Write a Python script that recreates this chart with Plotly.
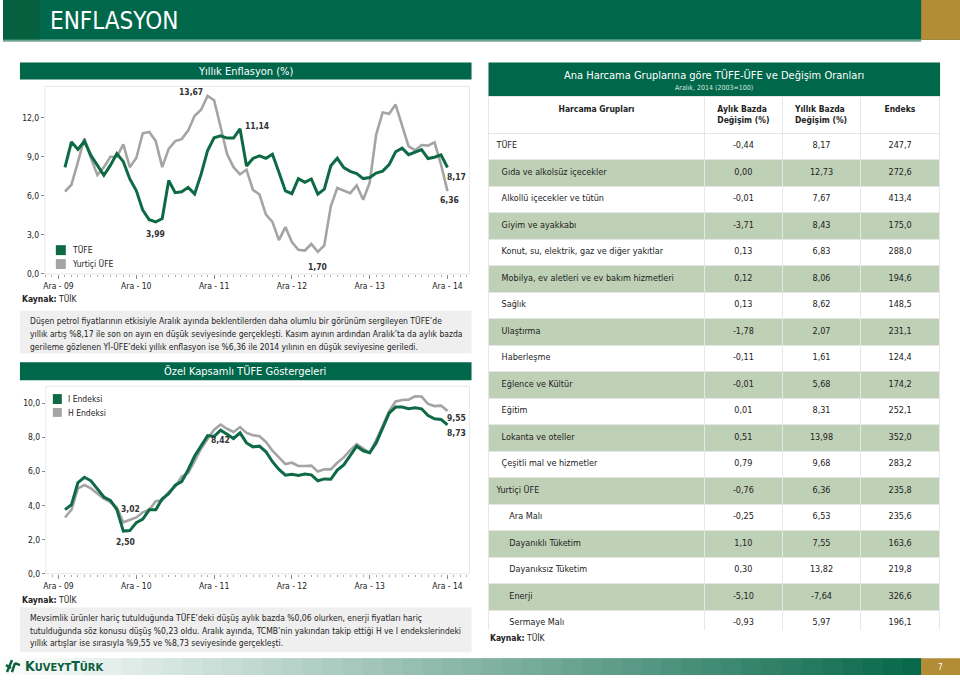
import plotly.graph_objects as go

W, H = 960, 680


def px(x):
    return x / W


def py(y):
    return 1 - y / H


# ---------------- data ----------------
month_idx = list(range(60))  # Oca-10 ... Ara-14
year_ticks = [-1, 11, 23, 35, 47, 59]
year_labels = ["Ara - 09", "Ara - 10", "Ara - 11", "Ara - 12", "Ara - 13", "Ara - 14"]

tufe = [8.19, 10.13, 9.56, 10.19, 9.10, 8.37, 7.58, 8.33, 9.24, 8.62, 7.29, 6.40,
        4.90, 4.16, 3.99, 4.26, 7.17, 6.24, 6.31, 6.65, 6.15, 7.66, 9.48, 10.45,
        10.61, 10.43, 10.43, 11.14, 8.28, 8.87, 9.07, 8.88, 9.19, 7.80, 6.37, 6.16,
        7.31, 7.03, 7.29, 6.13, 6.51, 8.30, 8.88, 8.17, 7.88, 7.71, 7.32, 7.40,
        7.75, 7.89, 8.39, 9.38, 9.66, 9.16, 9.32, 9.54, 8.86, 8.96, 9.15, 8.17]

yi_ufe = [6.33, 6.85, 8.6, 10.4, 8.9, 7.6, 8.2, 9.0, 9.0, 9.95, 8.2, 8.9,
          10.8, 10.9, 10.2, 8.2, 9.6, 10.2, 10.35, 11.0, 12.15, 12.6, 13.67, 13.33,
          11.3, 9.2, 8.2, 7.65, 8.0, 6.45, 6.1, 4.55, 4.0, 2.6, 3.6, 2.45,
          1.85, 1.8, 2.3, 1.70, 2.2, 5.2, 6.6, 6.4, 6.2, 6.8, 5.7, 7.0,
          10.7, 12.4, 12.3, 13.0, 11.3, 9.8, 9.5, 9.9, 9.85, 10.1, 8.4, 6.36]

i_endeksi = [3.76, 4.05, 5.35, 5.66, 5.45, 5.0, 4.5, 4.3, 3.76, 2.50, 2.53, 3.0,
             3.2, 3.75, 3.75, 4.4, 4.7, 5.2, 5.4, 6.1, 6.9, 7.5, 8.1, 8.05,
             8.42, 8.18, 7.93, 8.26, 7.67, 7.44, 7.48, 7.15, 6.57, 6.12, 5.78, 5.83,
             5.76, 5.85, 5.8, 5.45, 5.56, 5.54, 6.08, 6.38, 6.9, 7.48, 7.21, 7.09,
             7.67, 8.6, 9.42, 9.77, 9.77, 9.67, 9.73, 9.67, 9.28, 9.09, 9.05, 8.73]

h_endeksi = [3.3, 3.76, 5.0, 5.2, 5.0, 4.7, 4.4, 4.2, 3.9, 3.02, 3.15, 3.3,
             3.6, 3.75, 4.25, 4.3, 4.8, 5.1, 5.7, 5.9, 6.6, 7.35, 7.9, 8.45,
             8.75, 8.5, 8.31, 8.6, 8.26, 8.12, 8.06, 7.73, 7.21, 6.82, 6.43, 6.51,
             6.32, 6.32, 6.34, 5.99, 6.12, 6.12, 6.51, 6.82, 7.25, 7.6, 7.34, 7.09,
             7.83, 8.7, 9.53, 10.1, 10.19, 10.21, 10.4, 10.39, 9.96, 9.83, 9.86, 9.55]

groups = ["TÜFE", "Gıda ve alkolsüz içecekler", "Alkollü içecekler ve tütün",
          "Giyim ve ayakkabı", "Konut, su, elektrik, gaz ve diğer yakıtlar",
          "Mobilya, ev aletleri ve ev bakım hizmetleri", "Sağlık", "Ulaştırma",
          "Haberleşme", "Eğlence ve Kültür", "Eğitim", "Lokanta ve oteller",
          "Çeşitli mal ve hizmetler", "Yurtiçi ÜFE", "Ara Malı", "Dayanıklı Tüketim",
          "Dayanıksız Tüketim", "Enerji", "Sermaye Malı"]
group_level = [0, 1, 1, 1, 1, 1, 1, 1, 1, 1, 1, 1, 1, 0, 2, 2, 2, 2, 2]
aylik = [-0.44, 0.00, -0.01, -3.71, 0.13, 0.12, 0.13, -1.78, -0.11, -0.01, 0.01, 0.51,
         0.79, -0.76, -0.25, 1.10, 0.30, -5.10, -0.93]
yillik = [8.17, 12.73, 7.67, 8.43, 6.83, 8.06, 8.62, 2.07, 1.61, 5.68, 8.31, 13.98,
          9.68, 6.36, 6.53, 7.55, 13.82, -7.64, 5.97]
endeks = [247.7, 272.6, 413.4, 175.0, 288.0, 194.6, 148.5, 231.1, 124.4, 174.2, 252.1,
          352.0, 283.2, 235.8, 235.6, 163.6, 219.8, 326.6, 196.1]

# ---------------- styles ----------------
FONT = "DejaVu Sans Condensed, DejaVu Sans, sans-serif"
GREEN = "#00674A"
LINE_GREEN = "#0D6A45"
LINE_GRAY = "#A4A4A4"
ROW_FILL = "#BED0B6"
TXT = "#222222"


def tr(v, d=2):
    return f"{v:.{d}f}".replace(".", ",")


fig = go.Figure()

# chart 1
fig.add_trace(go.Scatter(x=month_idx, y=yi_ufe, mode="lines", line=dict(color=LINE_GRAY, width=2.6),
                         xaxis="x", yaxis="y", hoverinfo="skip", showlegend=False))
fig.add_trace(go.Scatter(x=month_idx, y=tufe, mode="lines", line=dict(color=LINE_GREEN, width=3),
                         xaxis="x", yaxis="y", hoverinfo="skip", showlegend=False))
# chart 2
fig.add_trace(go.Scatter(x=month_idx, y=h_endeksi, mode="lines", line=dict(color=LINE_GRAY, width=2.6),
                         xaxis="x2", yaxis="y2", hoverinfo="skip", showlegend=False))
fig.add_trace(go.Scatter(x=month_idx, y=i_endeksi, mode="lines", line=dict(color=LINE_GREEN, width=3),
                         xaxis="x2", yaxis="y2", hoverinfo="skip", showlegend=False))

# table
labels = [("\u00a0" * (0 if lv == 0 else (2 if lv == 1 else 5))) + g for g, lv in zip(groups, group_level)]
fills = ["white" if i % 2 == 0 else ROW_FILL for i in range(len(groups))]
fig.add_trace(go.Table(
    domain=dict(x=[px(487), px(940)], y=[py(634), py(97)]),
    columnwidth=[217, 78, 79, 79],
    header=dict(values=["<b>Harcama Grupları</b>", "<b>Aylık Bazda<br>Değişim (%)</b>",
                        "<b>Yıllık Bazda<br>Değişim (%)</b>", "<b>Endeks</b>"],
                height=32, fill_color="white", line=dict(color="#e6e6e6", width=1),
                align="center", font=dict(family=FONT, size=8.5, color=TXT)),
    cells=dict(values=[labels, [tr(v) for v in aylik], [tr(v) for v in yillik], [tr(v, 1) for v in endeks]],
               height=26.5, fill_color=[fills] * 4, line=dict(color="#e6e6e6", width=1),
               align=["left", "center", "center", "center"],
               font=dict(family=FONT, size=9, color=TXT)),
))

axis_font = dict(family=FONT, size=8.5, color="#222")
xcommon = dict(tickmode="array", tickvals=year_ticks, ticktext=year_labels, ticks="outside", ticklen=4,
               tickcolor="#888", showgrid=False, zeroline=False, showline=False,
               minor=dict(tickmode="linear", tick0=-1, dtick=1, ticks="outside", ticklen=2, tickcolor="#aaa"),
               tickfont=axis_font, fixedrange=True)
ycommon = dict(tickformat=".1f", ticks="outside", ticklen=3, tickcolor="#888", showgrid=False,
               zeroline=False, showline=False, tickfont=axis_font, fixedrange=True)

fig.update_layout(
    width=W, height=H, margin=dict(l=0, r=0, t=0, b=0),
    paper_bgcolor="white", plot_bgcolor="white", separators=",.",
    font=dict(family=FONT, size=9, color=TXT),
    xaxis=dict(domain=[px(42), px(468)], range=[-3.1, 62.4], anchor="y", **xcommon),
    yaxis=dict(domain=[py(276), py(87)], range=[0, 14.4], tickvals=[0, 3, 6, 9, 12], anchor="x", **ycommon),
    xaxis2=dict(domain=[px(43), px(468)], range=[-2.95, 62.4], anchor="y2", **xcommon),
    yaxis2=dict(domain=[py(578), py(389)], range=[0, 11.0], tickvals=[0, 2, 4, 6, 8, 10], anchor="x2", **ycommon),
)

shapes = []
ann = []


def rect(x0, y0, x1, y1, fill, line=None, layer="below"):
    shapes.append(dict(type="rect", xref="paper", yref="paper", x0=px(x0), x1=px(x1), y0=py(y1), y1=py(y0),
                       fillcolor=fill, line=dict(width=0 if line is None else 1, color=line or fill),
                       layer=layer))


def text(x, y, s, size=9, color=TXT, xanchor="left", yanchor="middle", family=FONT):
    ann.append(dict(x=px(x), y=py(y), xref="paper", yref="paper", text=s, showarrow=False,
                    xanchor=xanchor, yanchor=yanchor, font=dict(family=family, size=size, color=color)))


# header
rect(0, 0, 960, 40, GREEN)
rect(0, 0, 37, 40, "#05603F")
rect(921, 0, 960, 40, "#B38D35")
rect(0, 40, 921, 42, "#6FA78E")
text(45, 21, "ENFLASYON", size=24, color="white",
     family="Liberation Sans Narrow, DejaVu Sans Condensed, sans-serif")

# chart titles
rect(17, 63, 470, 80, GREEN)
text(243, 72, "Yıllık Enflasyon (%)", size=11, color="white", xanchor="center")
rect(17, 365, 470, 383, GREEN)
text(243, 374, "Özel Kapsamlı TÜFE Göstergeleri", size=11, color="white", xanchor="center")

# plot frames
rect(42, 87, 468, 276, "rgba(0,0,0,0)", line="#e8e8e8")
rect(43, 389, 468, 578, "rgba(0,0,0,0)", line="#e8e8e8")

# legends
rect(53, 247, 63, 257, LINE_GREEN, layer="above")
text(67, 252, "TÜFE", size=8.5)
rect(53, 261, 63, 271, LINE_GRAY, layer="above")
text(67, 266, "Yurtiçi ÜFE", size=8.5)
rect(50, 397, 59, 407, LINE_GREEN, layer="above")
text(63, 402, "I Endeksi", size=8.5)
rect(50, 411, 59, 420, LINE_GRAY, layer="above")
text(63, 416, "H Endeksi", size=8.5)


# data labels
def dlabel(xa, ya, i, series, dx, dy, xanchor="center"):
    ann.append(dict(x=month_idx[i], y=series[i], xref=xa, yref=ya, text="<b>" + tr(series[i]) + "</b>",
                    showarrow=False, xshift=dx, yshift=dy, xanchor=xanchor, yanchor="middle",
                    font=dict(family=FONT, size=8.5, color="#333")))


i_max_ufe = yi_ufe.index(max(yi_ufe))
i_max_tufe = tufe.index(max(tufe))
i_min_tufe = tufe.index(min(tufe))
i_min_ufe = yi_ufe.index(min(yi_ufe))
dlabel("x", "y", i_max_ufe, yi_ufe, -17, 4)
dlabel("x", "y", i_max_tufe, tufe, 3, 3, "left")
dlabel("x", "y", i_min_tufe, tufe, 0, -12)
dlabel("x", "y", i_min_ufe, yi_ufe, 0, -15)
dlabel("x", "y", 59, tufe, 9, -9)
dlabel("x", "y", 59, yi_ufe, 2, -9)
i_min_i = i_endeksi.index(min(i_endeksi[:20]))
dlabel("x2", "y2", i_min_i, h_endeksi, 7, 13)
dlabel("x2", "y2", i_min_i, i_endeksi, 2, -11)
dlabel("x2", "y2", 24, i_endeksi, 0, -10)
dlabel("x2", "y2", 59, h_endeksi, 9, -7)
dlabel("x2", "y2", 59, i_endeksi, 9, -8)

# sources
text(17, 301, "<b>Kaynak:</b> TÜİK", size=8.5)
text(17, 604, "<b>Kaynak:</b> TÜİK", size=8.5)
text(487, 643, "<b>Kaynak:</b> TÜİK", size=8.5)

# commentary boxes
rect(17, 313, 470, 356, "#EFEFEF")
para1 = ["Düşen petrol fiyatlarının etkisiyle Aralık ayında beklentilerden daha olumlu bir görünüm sergileyen TÜFE’de",
         "yıllık artış %8,17 ile son on ayın en düşük seviyesinde gerçekleşti. Kasım ayının ardından Aralık’ta da aylık bazda",
         "gerileme gözlenen Yİ-ÜFE’deki yıllık enflasyon ise %6,36 ile 2014 yılının en düşük seviyesine geriledi."]
for k, s in enumerate(para1):
    text(25, 323 + 13.5 * k, s, size=8.5)
rect(17, 612, 470, 657, "#EFEFEF")
para2 = ["Mevsimlik ürünler hariç tutulduğunda TÜFE’deki düşüş aylık bazda %0,06 olurken, enerji fiyatları hariç",
         "tutulduğunda söz konusu düşüş %0,23 oldu. Aralık ayında, TCMB’nin yakından takip ettiği H ve I endekslerindeki",
         "yıllık artışlar ise sırasıyla %9,55 ve %8,73 seviyesinde gerçekleşti."]
for k, s in enumerate(para2):
    text(25, 623 + 12.5 * k, s, size=8.5)

# table title
rect(487, 63, 940, 98, GREEN)
text(713, 76, "Ana Harcama Gruplarına göre TÜFE-ÜFE ve Değişim Oranları", size=11, color="white", xanchor="center")
text(713, 89, "Aralık, 2014 (2003=100)", size=7, color="#d8e8df", xanchor="center")

# footer gradient
n = 46
c0 = (250, 252, 250)
c1 = (8, 104, 74)
for k in range(n):
    t = (k / (n - 1)) ** 1.1
    c = tuple(int(c0[j] + (c1[j] - c0[j]) * t) for j in range(3))
    x0 = 921 * k / n
    x1 = 921 * (k + 1) / n + 0.6
    rect(x0, 663, x1, 680, "rgb(%d,%d,%d)" % c)
rect(921, 663, 960, 680, "#B38D35")
text(940, 672, "7", size=8, color="white", xanchor="center")
text(20, 671, "<b>K<span style='font-size:11px'>UVEYT</span>T<span style='font-size:11px'>ÜRK</span></b>",
     size=14, color="#0B5E3E", family="Liberation Sans Narrow, DejaVu Sans Condensed, sans-serif")
for (a, b, c, d) in [(4, 677, 9, 665), (9, 677, 12, 668), (12, 668, 17, 670), (3, 670, 8, 673)]:
    shapes.append(dict(type="line", xref="paper", yref="paper", x0=px(a), y0=py(b), x1=px(c), y1=py(d),
                       line=dict(color="#0B5E3E", width=2.5)))

fig.update_layout(shapes=shapes, annotations=ann)
fig.write_html("out.html", config={"displayModeBar": False},
               post_script="document.body.style.margin='0';document.body.style.overflow='hidden';")
